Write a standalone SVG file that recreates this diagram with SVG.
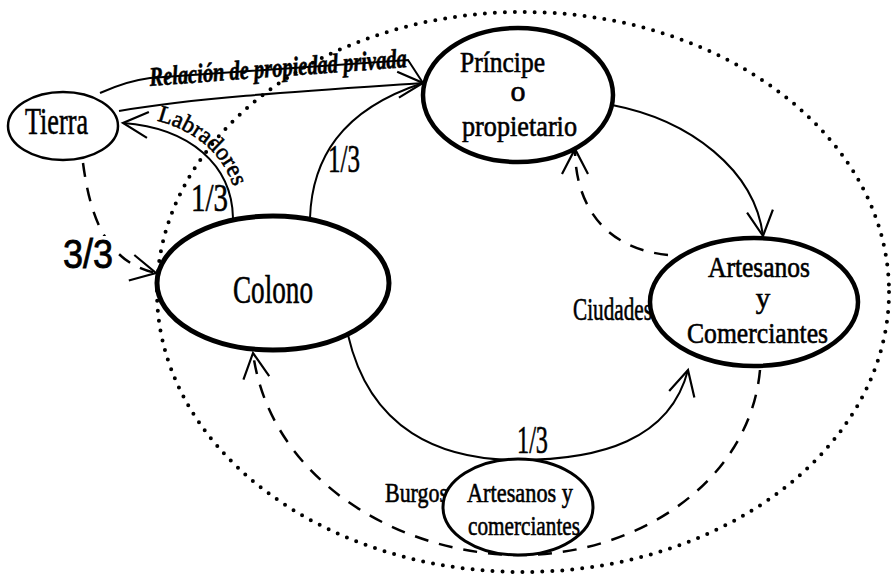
<svg xmlns="http://www.w3.org/2000/svg" width="894" height="578" viewBox="0 0 894 578">
<style>
  .node { fill: #fff; stroke: #000; }
  .lbl { font-family: "Liberation Serif", "Times New Roman", serif; fill: #000; stroke: #000; stroke-width: 0.6; }
  .edge { fill: none; stroke: #000; stroke-width: 2; }
  .dash { fill: none; stroke: #000; stroke-width: 2.5; stroke-dasharray: 14 11; }
  .dots { fill: none; stroke: #000; stroke-width: 4; stroke-dasharray: 0 10; stroke-linecap: round; }
</style>
<defs>
  <marker id="arr" markerUnits="userSpaceOnUse" viewBox="-28 -15 30 30" markerWidth="30" markerHeight="30" refX="0" refY="0" orient="auto" overflow="visible">
    <path d="M-25,-13 L0,0 L-25,13" fill="none" stroke="#000" stroke-width="2.2"/>
  </marker>
</defs>
<rect width="894" height="578" fill="#fff"/>

<g id="region">
  <ellipse cx="523" cy="292" rx="366" ry="280" class="dots"/>
</g>

<g id="connectors">
  <!-- Relación de propiedad privada -->
  <path class="edge" d="M100,93 C118,85 133,80 150,78 L408,60 L423,83"/>
  <path class="edge" d="M119,111 C200,97 320,90 423,83" marker-end="url(#arr)"/>
  <!-- Labradores: Colono -> Tierra -->
  <path class="edge" d="M233,218 C232,165 190,128 123,123" marker-end="url(#arr)"/>
  <!-- Colono -> Principe -->
  <path class="edge" d="M310,218 C312,160 340,110 423,83"/>
  <!-- Principe -> Artesanos (Ciudades) -->
  <path class="edge" d="M612,105 C690,120 755,170 763,236" marker-end="url(#arr)"/>
  <!-- Artesanos -> Principe dashed -->
  <path class="dash" d="M668,255 C600,248 575,200 575,149" marker-end="url(#arr)"/>
  <!-- Tierra -> Colono dashed -->
  <path class="dash" d="M83,163 C90,215 105,262 156,273" marker-end="url(#arr)"/>
  <!-- Colono -> Artesanos via Burgos -->
  <path class="edge" d="M348,335 C370,430 440,460 518,460 C600,460 670,440 688,370" marker-end="url(#arr)"/>
  <!-- Artesanos -> Colono dashed -->
  <path class="dash" d="M760,370 C750,480 640,555 520,555 C400,555 270,480 253,353" marker-end="url(#arr)"/>

  <path id="labPath" d="M125,116 C195,120 237,160 239,218" fill="none"/>
  <text class="lbl" font-size="24" textLength="106" lengthAdjust="spacingAndGlyphs"><textPath href="#labPath" startOffset="32">Labradores</textPath></text>
  <text class="lbl" font-size="27" font-style="italic" font-weight="bold" x="150" y="86" textLength="258" lengthAdjust="spacingAndGlyphs" transform="rotate(-4.2 150 86)">Relación de propiedad privada</text>
  <text class="lbl" font-size="40" x="191" y="211" textLength="37" lengthAdjust="spacingAndGlyphs">1/3</text>
  <text class="lbl" font-size="40" x="328" y="172" textLength="32" lengthAdjust="spacingAndGlyphs">1/3</text>
  <text class="lbl" font-size="40" x="517" y="453" textLength="31" lengthAdjust="spacingAndGlyphs">1/3</text>
  <rect x="62" y="236" width="53" height="34" fill="#fff"/>
  <text font-family="Liberation Sans, Arial, sans-serif" font-size="40" x="63" y="268" textLength="50" lengthAdjust="spacingAndGlyphs" stroke="#000" stroke-width="0.8">3/3</text>
  <text class="lbl" font-size="32" x="573" y="320" textLength="79" lengthAdjust="spacingAndGlyphs">Ciudades</text>
  <text class="lbl" font-size="28" x="385" y="502" textLength="63" lengthAdjust="spacingAndGlyphs">Burgos</text>
</g>

<g id="tierra">
  <ellipse class="node" cx="63" cy="126" rx="55" ry="34" stroke-width="2.5"/>
  <text class="lbl" font-size="38" x="25" y="134" textLength="63" lengthAdjust="spacingAndGlyphs">Tierra</text>
</g>

<g id="principe">
  <ellipse class="node" cx="518" cy="95" rx="95" ry="67" stroke-width="4.5"/>
  <text class="lbl" font-size="30" x="460" y="72" textLength="85" lengthAdjust="spacingAndGlyphs">Príncipe</text>
  <text class="lbl" font-size="30" x="518" y="101" text-anchor="middle">o</text>
  <text class="lbl" font-size="30" x="462" y="136" textLength="115" lengthAdjust="spacingAndGlyphs">propietario</text>
</g>

<g id="colono">
  <ellipse class="node" cx="273" cy="283" rx="116" ry="67" stroke-width="5"/>
  <text class="lbl" font-size="40" x="233" y="303" textLength="80" lengthAdjust="spacingAndGlyphs">Colono</text>
</g>

<g id="ciudades">
  <ellipse class="node" cx="754" cy="302" rx="104" ry="64" stroke-width="4.5"/>
  <text class="lbl" font-size="29" x="708" y="277" textLength="102" lengthAdjust="spacingAndGlyphs">Artesanos</text>
  <text class="lbl" font-size="29" x="763" y="308" text-anchor="middle">y</text>
  <text class="lbl" font-size="29" x="687" y="343" textLength="141" lengthAdjust="spacingAndGlyphs">Comerciantes</text>
</g>

<g id="burgos">
  <ellipse class="node" cx="518" cy="507" rx="75" ry="48" stroke-width="3"/>
  <text class="lbl" font-size="28" x="467" y="502" textLength="106" lengthAdjust="spacingAndGlyphs">Artesanos y</text>
  <text class="lbl" font-size="28" x="468" y="535" textLength="112" lengthAdjust="spacingAndGlyphs">comerciantes</text>
</g>
</svg>
